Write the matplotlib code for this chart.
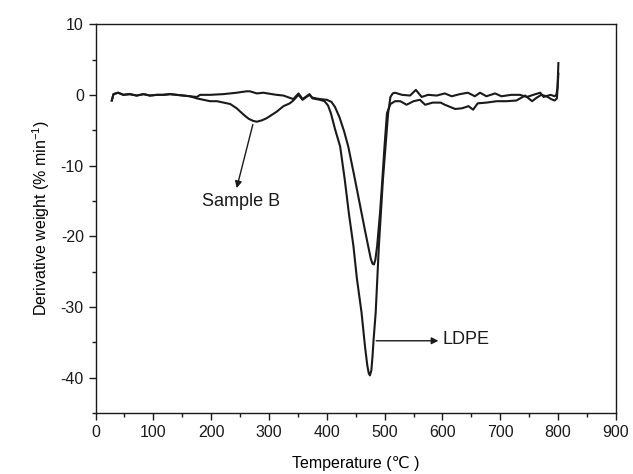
import matplotlib
matplotlib.use("Agg")
import matplotlib.pyplot as plt
from matplotlib.ticker import MultipleLocator

plt.rcParams['font.family'] = ['Liberation Sans', 'DejaVu Sans']
plt.rcParams['axes.unicode_minus'] = False
plt.rcParams['mathtext.default'] = 'regular'

# LDPE derivative weight curve
ldpe_t = [28, 31, 39, 48, 59, 71, 83, 94, 106, 117, 129, 140, 152, 163, 175,
          181, 198, 221, 244, 261, 267, 279, 290, 313, 325, 342, 351, 358, 370,
          375, 388, 396, 402, 407, 414, 423, 431, 438, 446, 452, 460, 466, 470,
          472.5, 474.5, 477, 479, 481, 484.5, 490, 497, 506, 510, 514, 518, 530,
          544, 554, 564, 575, 590, 604, 616, 630, 644, 656, 665, 676, 691, 702,
          719, 734, 746, 757, 769, 775, 787, 794, 797, 799, 800.5]
ldpe_y = [-0.8, 0.1, 0.3, 0.0, 0.1, -0.1, 0.1, -0.1, 0.0, 0.0, 0.1, 0.0, -0.1, -0.2, -0.3,
          0.0, 0.0, 0.1, 0.3, 0.5, 0.5, 0.2, 0.3, 0.0, -0.1, -0.6, 0.2, -0.6, 0.1,
          -0.5, -0.7, -0.9, -1.5, -2.6, -4.8, -7.3, -12.0, -16.7, -21.4, -26.0, -30.8, -35.6, -38.3,
          -39.4, -39.7, -39.0, -37.0, -34.5, -30.8, -21.4, -12.0, -2.6, -0.3, 0.2, 0.3, 0.0,
          -0.1, 0.7, -0.3, 0.0, -0.1, 0.2, -0.2, 0.1, 0.3, -0.2, 0.3, -0.2, 0.2, -0.2,
          0.0, 0.0, -0.3, 0.0, 0.3, -0.3, 0.0, -0.2, 0.0, 1.0, 4.5]

# Sample B derivative weight curve
sampb_t = [28, 31, 39, 48, 59, 71, 83, 94, 106, 117, 129, 140, 152, 163, 175,
           198, 210, 233, 244, 256, 265, 273, 279, 288, 296, 313, 325, 336, 342,
           351, 358, 370, 375, 388, 400, 408, 414, 422, 430, 437, 447, 454, 460, 467,
           472, 476, 479, 481.5, 484, 487, 492, 496, 500, 504, 510, 518, 527, 538,
           550, 561, 570, 583, 597, 604, 622, 634, 645, 653, 661, 676, 694, 711,
           728, 743, 755, 763, 771, 780, 788, 794, 798, 800.5]
sampb_y = [-0.8, 0.1, 0.3, 0.0, 0.1, -0.1, 0.1, -0.1, 0.0, 0.0, 0.1, 0.0, -0.1, -0.2, -0.5,
           -0.9, -0.9, -1.3, -1.9, -2.8, -3.4, -3.7, -3.8, -3.6, -3.3, -2.4, -1.6, -1.2, -0.8,
           0.0, -0.7, 0.0, -0.4, -0.6, -0.7, -1.0, -1.7, -3.2, -5.2, -7.3, -11.3, -14.2, -16.7, -19.6,
           -21.6, -23.2, -23.9, -24.0, -23.3, -21.4, -16.7, -12.0, -7.0, -2.6, -1.3, -0.9, -0.9, -1.4,
           -0.9, -0.7, -1.4, -1.1, -1.1, -1.4, -2.0, -1.9, -1.6, -2.1, -1.2, -1.1, -0.9, -0.9,
           -0.8, -0.1, -0.9, -0.4, 0.0, -0.2, -0.6, -0.8, -0.5, 3.0]

x_ticks = [0, 100, 200, 300, 400, 500, 600, 700, 800, 900]
y_ticks = [-40, -30, -20, -10, 0, 10]

fig = plt.figure(figsize=(6.33, 4.74), dpi=100)
ax = fig.add_axes([0.151, 0.129, 0.822, 0.82])

ax.plot(ldpe_t, ldpe_y, color='#1a1a1a', lw=1.5)
ax.plot(sampb_t, sampb_y, color='#1a1a1a', lw=1.5)

ax.set_xlim(0, 900)
ax.set_ylim(-45, 10)
ax.set_xticks(x_ticks)
ax.set_yticks(y_ticks)
ax.xaxis.set_minor_locator(MultipleLocator(50))
ax.yaxis.set_minor_locator(MultipleLocator(5))
ax.tick_params(which='both', direction='out', top=False, right=False,
               labelsize=11.5, colors='#1a1a1a')
ax.tick_params(which='major', length=5, width=1)
ax.tick_params(which='minor', length=3, width=1)
for s in ax.spines.values():
    s.set_linewidth(1.0)
    s.set_color('#1a1a1a')

ax.set_xlabel('Temperature (\u2103 )', fontsize=11.5, labelpad=12)
ax.set_ylabel('Derivative weight (% min$^{-1}$)', fontsize=11.5, labelpad=6)

# annotations
ax.annotate('', xy=(244, -13.2), xytext=(272, -4.2),
            arrowprops=dict(arrowstyle='-|>', color='#1a1a1a', lw=1.0,
                            mutation_scale=10, shrinkA=0, shrinkB=0))
ax.text(251, -15.7, 'Sample B', ha='center', va='baseline', fontsize=13,
        color='#1a1a1a')
ax.annotate('', xy=(593, -34.8), xytext=(485.5, -34.8),
            arrowprops=dict(arrowstyle='-|>', color='#1a1a1a', lw=1.0,
                            mutation_scale=10, shrinkA=0, shrinkB=0))
ax.text(600, -35.3, 'LDPE', ha='left', va='baseline', fontsize=13,
        color='#1a1a1a')

fig.savefig('out.png', dpi=100)
